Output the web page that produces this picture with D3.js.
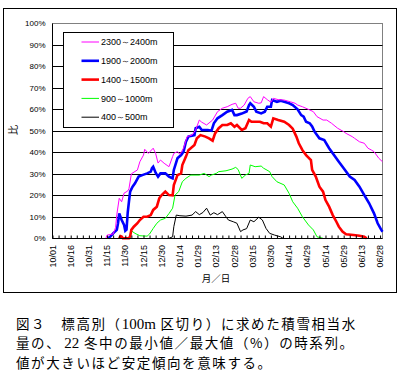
<!DOCTYPE html>
<html>
<head>
<meta charset="utf-8">
<script src="https://cdn.jsdelivr.net/npm/d3@7"></script>
<style>
  body { margin: 0; background: #fff; }
  svg { display: block; }
  text { font-family: "Liberation Sans", Arial, sans-serif; }
  .jp { font-family: "Noto Sans CJK JP", sans-serif; }
  .num { font-family: "Liberation Serif", "Times New Roman", serif; }
</style>
</head>
<body>
<script>
// day = days after 10/01, value = percent
const tickLabels = ["10/01","10/16","10/31","11/15","11/30","12/15","12/30","01/14","01/29",
  "02/13","02/28","03/15","03/30","04/14","04/29","05/14","05/29","06/13","06/28"];
const seriesNames = ["2300～2400m","1900～2000m","1400～1500m","900～1000m","400～500m"];

const s2300 = [[44,0],[45,1.5],[50,2],[52,5],[53,11],[55,18.6],[57,17],[59,21],[62,22],[63,23],
  [65,30],[70,31.8],[72,35.6],[75,38.7],[76,41.4],[79,39.5],[83,41.9],[85,39.5],[87,35],[89,36.4],
  [92,34.9],[96,33.3],[99,38],[100,39.5],[103,40.3],[105,39],[108,41.9],[111,47.3],[115,48],
  [118,50.4],[121,55],[123,54],[127,52.7],[132,55],[136,58.9],[140,60.5],[144,61.2],[148,62.3],
  [151,62.8],[153,60.5],[155,60.5],[158,62],[161,65.1],[163,65.9],[166,63.5],[170,62.8],[172,63],
  [174,65.9],[177,64.5],[180,63.3],[182,65.1],[186,64.5],[191,64.3],[196,63.5],[200,62.8],[202,62],
  [206,61.2],[212,59.7],[215,58.9],[218,56.6],[223,55],[226,55],[230,53.5],[235,51.2],[240,49.6],
  [242,48.8],[247,47.3],[249,46.5],[253,44.9],[257,44.2],[260,41.9],[263,41],[265,40.3],[269,37.2],
  [272,35.6]];

const s1900 = [[46,0],[48,1],[50,2.3],[53,3.9],[54,7],[55,11.6],[57,8.5],[59,6.2],[60,3.5],[61,4],
  [62,12],[63,17],[64,21.7],[66,24],[68,25.6],[71,28.7],[74,29.4],[78,30.2],[81,31],[82,32.6],
  [83,33.3],[85,30.5],[87,28.7],[89,30.2],[93,30.2],[96,28.7],[99,27.9],[100,31.8],[103,37.2],
  [106,38.7],[108,40.3],[110,44.9],[112,47.3],[117,48],[118,51.2],[121,51.9],[123,50.4],[128,50.4],
  [131,50],[133,53.5],[136,55.8],[140,57.3],[144,58.9],[148,59.7],[150,57.3],[152,57.3],[156,58],
  [160,59],[162,62],[163,62.8],[166,61.2],[168,58.9],[172,58.1],[175,58.9],[177,61.2],[180,61.2],
  [181,64.3],[185,63.5],[188,64],[191,63.5],[195,62.8],[198,62],[202,60],[205,57.3],[207,56.6],
  [209,54.2],[212,53.5],[214,52],[216,49.6],[220,46.5],[224,45.7],[228,41.9],[232,38.7],[236,35.6],
  [240,32.6],[245,28.7],[249,27.1],[253,24],[257,20.1],[261,16.3],[265,11.6],[268,7],[271,3.9],
  [272,3.1]];

const s1400 = [[55,0],[56,1],[57,0.8],[58,0],[63,0],[64,1],[65,3.9],[67,5.4],[70,7],[72,8.5],
  [75,10],[78,10],[81,10.8],[83,13.2],[86,14.7],[88,18.6],[90,20.1],[93,21.7],[96,20.1],[99,20],
  [100,24.8],[103,29.4],[106,30.2],[107,34.1],[110,38],[112,41],[117,43.4],[119,46.5],[122,48],
  [126,47.3],[129,46.5],[132,45.4],[134,48.8],[137,51.2],[140,52.7],[144,52.7],[147,53.5],[150,51.9],
  [152,52.7],[156,50.4],[159,51.2],[162,55],[164,54.2],[171,54.2],[174,53.5],[177,53.5],[180,51.9],
  [182,55.8],[186,55],[191,54.2],[195,52.7],[198,51],[201,47.3],[203,44.2],[206,41],[209,38.7],
  [213,36.4],[214,31.8],[217,28.7],[220,24],[223,21.7],[225,17.8],[228,14.7],[231,10.8],[234,7.7],
  [236,5.4],[239,3.1],[242,1.9],[248,1.5],[253,1.2],[257,0.7],[259,0]];

const s900 = [[64,0],[65,3.5],[68,2.3],[72,1.2],[78,1],[80,2],[83,4.6],[86,7],[89,8.5],[93,9.3],
  [96,11.5],[99,14],[101,20.1],[104,21.7],[107,26.3],[110,27.9],[114,29.4],[121,29.4],[125,30.2],
  [129,28.7],[131,29.4],[135,30.2],[137,31],[143,31.4],[148,32.2],[151,33],[153,32],[156,27.9],
  [159,29.4],[162,30.2],[163,34.1],[167,33.3],[172,33.6],[174,32.6],[179,31],[181,28.7],[185,26.3],
  [191,24.8],[195,20.9],[198,17],[202,14],[206,10],[211,6.2],[215,3.9],[218,0.7],[223,0]];

const s400 = [[96,0],[99,0.7],[100,5.4],[102,10.8],[105,10.5],[110,10.3],[115,10.8],[118,12.4],
  [121,11],[124,12],[127,14],[130,10.8],[133,11.9],[136,11],[140,12.4],[143,10],[145,8.5],[149,7.7],
  [152,7],[155,3.1],[157,3.9],[160,4.5],[163,8.5],[166,7.7],[170,9.8],[173,8.5],[176,4.6],[179,2.3],
  [183,1.5],[188,0.7],[190,0]];

const colors = ["#ff00ff","#0000ff","#ff0000","#00ff00","#000000"];
const widths = [1, 2.6, 2.6, 1, 1];
const allSeries = [s2300, s1900, s1400, s900, s400];

const svg = d3.select("body").append("svg")
  .attr("width", 400).attr("height", 391);

svg.append("rect").attr("width", 400).attr("height", 391).attr("fill", "#fff");

// outer frame
svg.append("rect")
  .attr("x", 3.5).attr("y", 8.5).attr("width", 393).attr("height", 284)
  .attr("fill", "none").attr("stroke", "#000");

var x = d3.scaleLinear().domain([0, 272]).range([52.5, 382.5]);
var y = d3.scaleLinear().domain([0, 100]).range([238.3, 23.3]);

// plot area border
svg.append("rect")
  .attr("x", 52.5).attr("y", 23.5).attr("width", 330).attr("height", 215)
  .attr("fill", "none").attr("stroke", "#808080");

// gridlines
svg.append("g")
  .selectAll("line")
  .data(d3.range(10, 100, 10))
  .enter().append("line")
  .attr("x1", 52.5).attr("x2", 382.5)
  .attr("y1", d => Math.round(y(d)) + 0.5)
  .attr("y2", d => Math.round(y(d)) + 0.5)
  .attr("stroke", "#000");

// series, lowest band first
var line = d3.line().x(d => x(d[0])).y(d => y(d[1]));
for (let i = allSeries.length - 1; i >= 0; i--) {
  svg.append("path")
    .datum(allSeries[i])
    .attr("d", line)
    .attr("fill", "none")
    .attr("stroke", colors[i])
    .attr("stroke-width", widths[i])
    .attr("stroke-linejoin", "miter");
}

// y axis
var yAxis = d3.axisLeft(y)
  .tickValues(d3.range(0, 101, 10))
  .tickFormat(d => d + "%")
  .tickSize(0)
  .tickPadding(7);
var gy = svg.append("g").attr("transform", "translate(52.5,0)").call(yAxis);
gy.select(".domain").attr("stroke", "#000").attr("d", "M0,23.5V238.5");
gy.selectAll("text").attr("font-size", 8).attr("fill", "#000")
  .attr("font-family", "Liberation Sans, Arial, sans-serif");

// x axis: ticks every 5 days pointing up
var xAxis = d3.axisBottom(x)
  .tickValues(d3.range(0, 271, 5))
  .tickSize(-3)
  .tickFormat("");
var gx = svg.append("g").attr("transform", "translate(0,238.5)").call(xAxis);
gx.select(".domain").attr("stroke", "#000").attr("d", "M52.5,0H382.5");
gx.selectAll(".tick line").attr("stroke", "#000");

// x labels every 15 days, rotated
svg.append("g")
  .selectAll("text")
  .data(tickLabels)
  .enter().append("text")
  .attr("transform", (d, i) => "translate(" + x(i * 15) + ",245) rotate(-90)")
  .attr("dy", "0.35em")
  .attr("text-anchor", "end")
  .attr("font-size", 9)
  .text(d => d);

// axis titles
svg.append("text").attr("class", "jp")
  .attr("transform", "translate(13,130) rotate(-90)")
  .attr("text-anchor", "middle").attr("dy", "0.35em")
  .attr("font-size", 10).text("比");

svg.append("text").attr("class", "jp")
  .attr("x", 216).attr("y", 282)
  .attr("text-anchor", "middle")
  .attr("font-size", 9.5).text("月／日");

// legend
var lg = svg.append("g");
lg.append("rect")
  .attr("x", 63.5).attr("y", 32.5).attr("width", 110).attr("height", 95)
  .attr("fill", "#fff").attr("stroke", "#000");
seriesNames.forEach(function(name, i) {
  var ly = 42 + i * 18.8;
  lg.append("line")
    .attr("x1", 81.5).attr("x2", 99)
    .attr("y1", ly).attr("y2", ly)
    .attr("stroke", colors[i]).attr("stroke-width", widths[i]);
  lg.append("text")
    .attr("x", 101).attr("y", ly).attr("dy", "0.35em")
    .attr("font-size", 9).text(name);
});

// caption
var cap = svg.append("g").attr("font-size", 13.5).attr("letter-spacing", 1.6);
var c1 = cap.append("text").attr("class", "jp").attr("x", 16).attr("y", 328.5);
c1.append("tspan").text("図３　標高別（");
c1.append("tspan").attr("class", "num").attr("font-size", 15).attr("letter-spacing", 0).text("100m");
c1.append("tspan").text(" 区切り）に求めた積雪相当水");
var c2 = cap.append("text").attr("class", "jp").attr("x", 16).attr("y", 347.5);
c2.append("tspan").text("量の、");
c2.append("tspan").attr("class", "num").attr("font-size", 15).attr("letter-spacing", 0)
  .attr("dx", 3).text("22");
c2.append("tspan").text(" 冬中の最小値／最大値（%）の時系列。");
cap.append("text").attr("class", "jp").attr("x", 16).attr("y", 367.5)
  .text("値が大きいほど安定傾向を意味する。");
</script>
</body>
</html>
